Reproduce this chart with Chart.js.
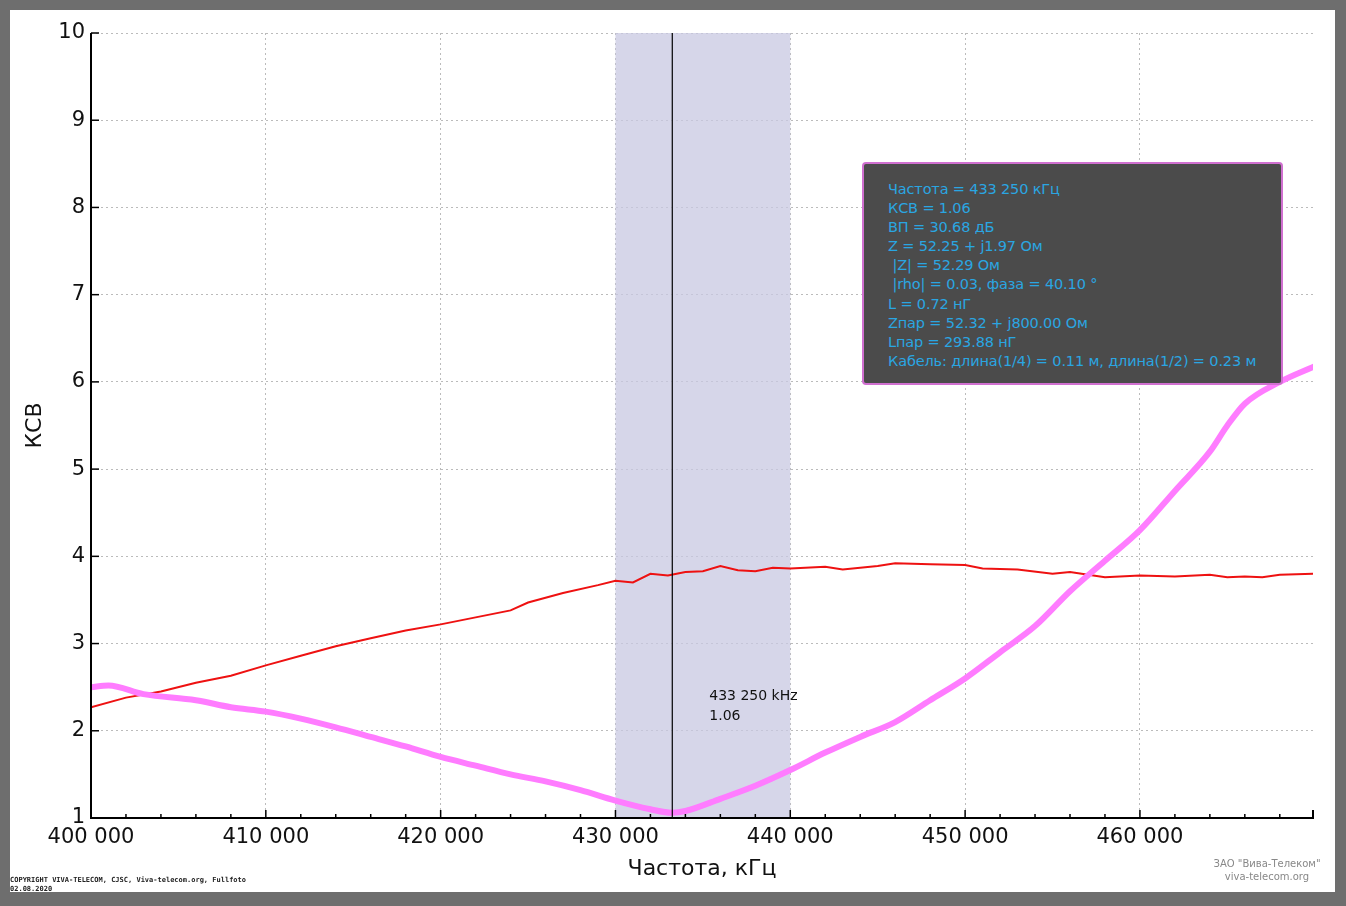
<!DOCTYPE html>
<html><head><meta charset="utf-8">
<script src="https://cdn.jsdelivr.net/npm/chart.js@4/dist/chart.umd.min.js"></script>
<style>
body{margin:0;background:#6e6e6e;width:1346px;height:906px;overflow:hidden;font-family:Tahoma,"DejaVu Sans",sans-serif}
#paper{position:absolute;left:10px;top:10px;width:1325px;height:882px;background:#fff}
canvas{position:absolute;left:0;top:0}
#info{position:absolute;left:862px;top:162px;width:421px;height:223px;background:#4b4b4b;border:2px solid #d070d0;border-radius:4px;color:#2aa6e2;font-size:14.5px;line-height:19.1px;padding:16px 0 0 24px;box-sizing:border-box;white-space:pre;letter-spacing:-0.15px}
#copy{position:absolute;left:10px;top:876px;font:bold 7px "DejaVu Sans Mono",monospace;color:#222;line-height:9px}
#logo{position:absolute;left:1212px;top:857px;width:110px;text-align:center;font-size:10px;color:#888;line-height:13px}
</style></head><body>
<div id="paper"></div>
<canvas id="c" width="1346" height="906"></canvas>
<div id="info">Частота = 433 250 кГц
КСВ = 1.06
ВП = 30.68 дБ
Z = 52.25 + j1.97 Ом
 |Z| = 52.29 Ом
 |rho| = 0.03, фаза = 40.10 °
L = 0.72 нГ
Zпар = 52.32 + j800.00 Ом
Lпар = 293.88 нГ
Кабель: длина(1/4) = 0.11 м, длина(1/2) = 0.23 м</div>
<div id="copy">COPYRIGHT VIVA-TELECOM, CJSC, Viva-telecom.org, Fullfoto<br>02.08.2020</div>
<div id="logo">ЗАО "Вива-Телеком"<br>viva-telecom.org</div>
<script>
// данные кривых
const freqA = [400000,401000,403000,406000,408000,410000,412000,414000,416000,418000,420000,422000,424000,426000,428000,430000,432000,433250,434000,436000,438000,440000,442000,444000,446000,448000,450000,452000,454000,456000,458000,460000,462000,464000,465000,466000,468000,470000];
const swrA = [2.5,2.52,2.42,2.35,2.27,2.22,2.14,2.04,1.93,1.82,1.7,1.6,1.5,1.42,1.32,1.2,1.1,1.06,1.08,1.22,1.37,1.55,1.75,1.93,2.1,2.35,2.6,2.9,3.2,3.6,3.95,4.3,4.75,5.2,5.5,5.75,6.0,6.18];
const freqB = [400000,402000,404000,406000,408000,410000,412000,414000,416000,418000,420000,422000,424000,425000,427000,429000,430000,431000,432000,433000,434000,435000,436000,437000,438000,439000,440000,442000,443000,445000,446000,448000,450000,451000,453000,455000,456000,458000,460000,462000,464000,465000,466000,467000,468000,470000];
const swrB = [2.27,2.38,2.45,2.55,2.63,2.75,2.86,2.97,3.06,3.15,3.22,3.3,3.38,3.47,3.58,3.67,3.72,3.7,3.8,3.78,3.82,3.83,3.89,3.84,3.83,3.87,3.86,3.88,3.85,3.89,3.92,3.91,3.9,3.86,3.85,3.8,3.82,3.76,3.78,3.77,3.79,3.76,3.77,3.76,3.79,3.8];
const xTicks = [400000,410000,420000,430000,440000,450000,460000];
const bandFrom = 430000, bandTo = 440000;
const markerF = 433250, markerSwr = 1.06;

const pts = (xs, ys) => xs.map((x, i) => ({x, y: ys[i]}));
const fmt = v => String(v).replace(/\B(?=(\d{3})+(?!\d))/g, ' ');
const FONT = 'Tahoma, "DejaVu Sans", sans-serif';

const overlay = {
  id: 'overlay',
  beforeDatasetsDraw(chart) {
    const {ctx, chartArea: a, scales: {x}} = chart;
    ctx.save();
    ctx.fillStyle = 'rgba(200,200,225,0.75)';
    ctx.fillRect(x.getPixelForValue(bandFrom), a.top, x.getPixelForValue(bandTo) - x.getPixelForValue(bandFrom), a.bottom - a.top);
    ctx.restore();
  },
  afterDatasetsDraw(chart) {
    const {ctx, chartArea: a, scales: {x, y}} = chart;
    ctx.save();
    const mx = x.getPixelForValue(markerF);
    ctx.strokeStyle = '#000'; ctx.lineWidth = 1.2;
    ctx.beginPath(); ctx.moveTo(mx, a.top); ctx.lineTo(mx, a.bottom); ctx.stroke();
    ctx.fillStyle = '#111'; ctx.font = '14px ' + FONT;
    ctx.fillText(fmt(markerF) + ' kHz', mx + 37, 700);
    ctx.fillText(markerSwr.toFixed(2), mx + 37, 720);
    // мелкие риски
    ctx.lineWidth = 1.5;
    for (let f = 400000; f <= 470000; f += 2000) {
      const px = x.getPixelForValue(f);
      if (px > a.right + 1) break;
      ctx.beginPath(); ctx.moveTo(px, a.bottom); ctx.lineTo(px, a.bottom - (f % 10000 === 0 ? 8 : 4)); ctx.stroke();
    }
    for (let v = 1; v <= 10; v += 1) {
      const py = y.getPixelForValue(v);
      ctx.beginPath(); ctx.moveTo(a.left, py); ctx.lineTo(a.left + 8, py); ctx.stroke();
    }
    ctx.lineWidth = 2;
    ctx.beginPath(); ctx.moveTo(a.left, a.top); ctx.lineTo(a.left, a.bottom); ctx.lineTo(a.right, a.bottom); ctx.lineTo(a.right, a.bottom - 8); ctx.stroke();
    ctx.restore();
  }
};

new Chart(document.getElementById('c'), {
  type: 'line',
  data: { datasets: [
    { data: pts(freqA, swrA), borderColor: '#ff7cff', borderWidth: 6, pointRadius: 0, cubicInterpolationMode: 'monotone' },
    { data: pts(freqB, swrB), borderColor: '#ee1111', borderWidth: 2, pointRadius: 0, tension: 0 }
  ]},
  options: {
    responsive: false, animation: false,
    layout: { padding: { top: 33, right: 33, left: 18, bottom: 24 } },
    plugins: { legend: { display: false }, tooltip: { enabled: false } },
    scales: {
      x: {
        type: 'linear', min: 400000, max: 469900,
        afterBuildTicks: s => { s.ticks = xTicks.map(v => ({value: v})); },
        afterFit: s => { s.height = 64; },
        border: { display: false, dash: [2, 3] },
        grid: { color: '#bbb', tickLength: 0, lineWidth: 1 },
        ticks: { autoSkip: false, color: '#111', padding: 7, maxRotation: 0,
                 font: { size: 21, family: FONT }, callback: v => fmt(v) },
        title: { display: true, text: 'Частота, кГц', color: '#111', padding: { top: 0, bottom: 0 },
                 font: { size: 22, family: FONT } }
      },
      y: {
        min: 1, max: 10,
        afterFit: s => { s.width = 73; },
        border: { display: false, dash: [2, 3] },
        grid: { color: '#bbb', tickLength: 0 },
        ticks: { stepSize: 1, color: '#111', padding: 6,
                 font: { size: 21, family: FONT } },
        title: { display: true, text: 'КСВ', color: '#111', padding: { bottom: 0 },
                 font: { size: 22, family: FONT } }
      }
    }
  },
  plugins: [overlay]
});
</script>
</body></html>
